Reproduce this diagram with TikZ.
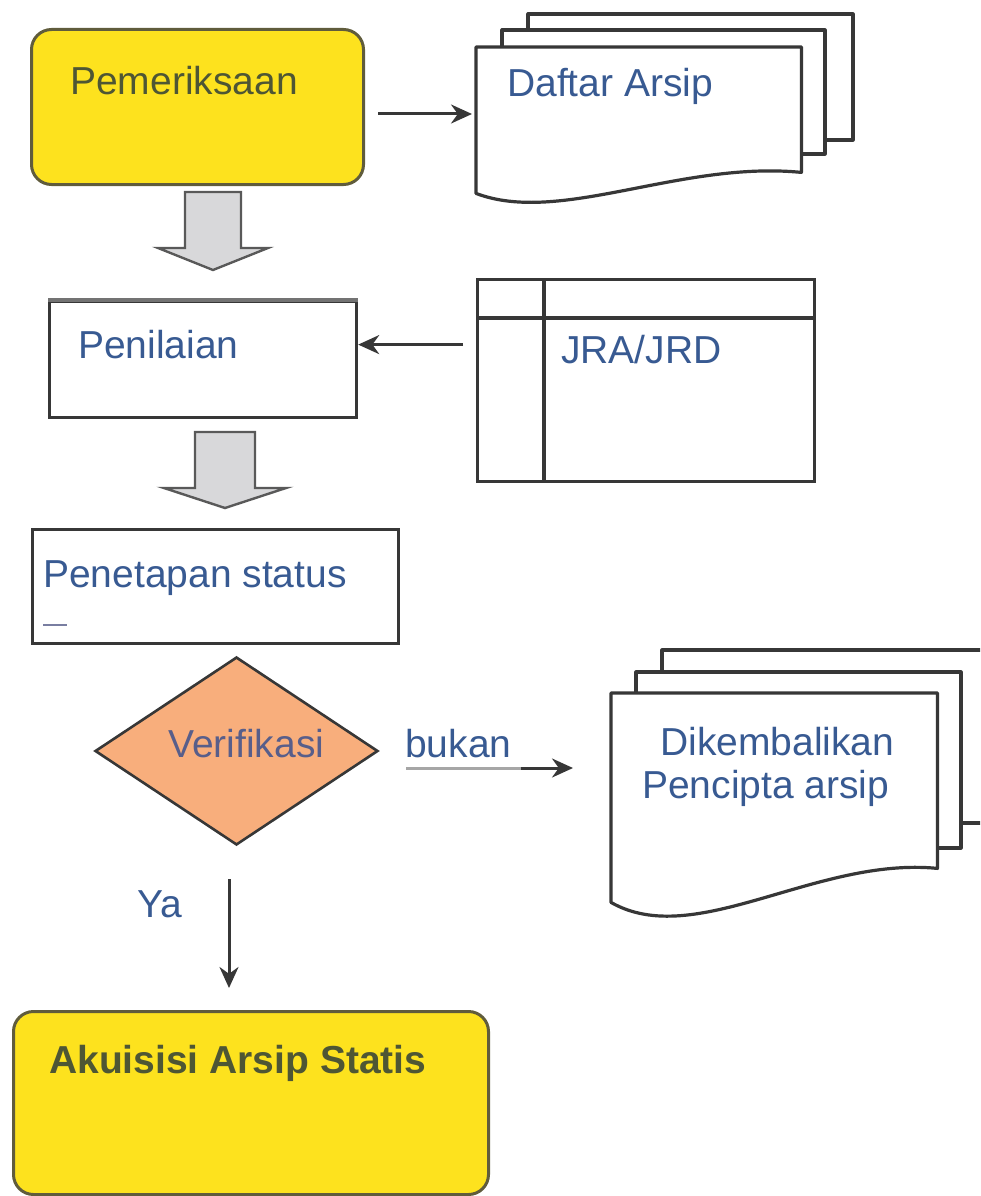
\documentclass[tikz,border=0pt]{standalone}
\usepackage{fontspec}
\setmainfont{Liberation Sans}
\usetikzlibrary{arrows.meta,shapes.geometric,calc}

\definecolor{boxyellow}{RGB}{253,226,30}
\definecolor{yellowedge}{RGB}{96,92,60}
\definecolor{olivetext}{RGB}{78,86,52}
\definecolor{bluetext}{RGB}{56,90,146}
\definecolor{greyblue}{RGB}{88,94,138}
\definecolor{salmon}{RGB}{248,174,124}
\definecolor{edge}{RGB}{55,55,55}
\definecolor{blockgrey}{RGB}{216,216,218}

\begin{document}
\begin{tikzpicture}[x=1pt,y=-1pt,
  box/.style={rectangle,draw=edge,line width=3.2pt,fill=white,
    anchor=north west,inner sep=0pt},
  roundbox/.style={rectangle,rounded corners=20pt,draw=yellowedge,
    line width=3pt,fill=boxyellow,anchor=north west,inner sep=0pt},
  ghost/.style={rectangle,anchor=north west,inner sep=0pt},
  paper/.style={draw=edge,line width=3.2pt,fill=white,line join=round},
  blockarrow/.style={draw=black!65,line width=2.4pt,fill=blockgrey,line join=miter},
  flow/.style={draw=edge,line width=3pt,-{Stealth[length=21pt,width=19pt]}},
  lbl/.style={inner sep=0pt,anchor=base west,font=\fontsize{39}{46}\selectfont},
]
\useasboundingbox (0,0) rectangle (980,1196);
\clip (0,0) rectangle (980,1196);

% ---------- Pemeriksaan ----------
\node[roundbox,minimum width=332pt,minimum height=155pt] (pem) at (30,28) {};
\node[lbl,text=olivetext] at (70,95) {Pemeriksaan};

% ---------- Daftar Arsip (stacked documents) ----------
\draw[paper] (528,14) rectangle (853,140);
\draw[paper] (502,30) rectangle (825,154);
\node[ghost,minimum width=325pt,minimum height=146pt] (daftar) at (476,47) {};
\draw[paper] (daftar.south west) -- (daftar.north west) -- (daftar.north east)
  -- ([shift={(0,-21)}]daftar.south east)
  .. controls ([shift={(204,-33)}]daftar.south west) and ([shift={(84,32)}]daftar.south west)
  .. (daftar.south west) -- cycle;
\node[lbl,text=bluetext] at (507,97) {Daftar Arsip};

\coordinate (a1) at ([shift={(13,7)}]pem.east);
\draw[flow] (a1) -- ([xshift=-4pt]daftar.west |- a1);

% ---------- block arrow 1 ----------
\draw[blockarrow] (185,192) -- (241,192) -- (241,248) -- (268,248) -- (213,270)
  -- (158,248) -- (185,248) -- cycle;

% ---------- Penilaian ----------
\node[box,minimum width=307pt,minimum height=116pt] (pen) at (48,300) {};
\draw[black!55,line width=4.5pt] (pen.north west) -- (pen.north east);
\node[lbl,text=bluetext] at (78,358) {Penilaian};

% ---------- JRA/JRD table ----------
\node[box,minimum width=337pt,minimum height=202pt] (jra) at (476,278) {};
\draw[edge,line width=3.2pt] (476,318) -- (813,318);
\draw[edge,line width=3.2pt] (544,278) -- (544,480);
\node[lbl,text=bluetext] at (561,363) {JRA/JRD};

\coordinate (a2) at ([shift={(-13,-36)}]jra.west);
\draw[flow] (a2) -- (pen.east |- a2);

% ---------- block arrow 2 ----------
\draw[blockarrow] (195,432) -- (255,432) -- (255,488) -- (286,488) -- (225,508)
  -- (164,488) -- (195,488) -- cycle;

% ---------- Penetapan status ----------
\node[box,minimum width=366pt,minimum height=114pt] (tetap) at (31,528) {};
\node[lbl,text=bluetext] at (43,587) {Penetapan status};
\draw[greyblue!80,line width=2.4pt] (43,625) -- (67,625);

% ---------- Verifikasi ----------
\node[diamond,draw=edge,line width=2.6pt,fill=salmon,inner sep=0pt,
  minimum width=283pt,minimum height=188pt] (ver) at (236.5,751) {};
\node[lbl,text=greyblue] at (168,757) {Verifikasi};

% ---------- Dikembalikan (stacked documents) ----------
\draw[paper] (662,650) rectangle (1000,823);
\draw[paper] (636,672) rectangle (961,848);
\node[ghost,minimum width=326pt,minimum height=209pt] (dik) at (611,693) {};
\draw[paper] (dik.south west) -- (dik.north west) -- (dik.north east)
  -- ([shift={(0,-34)}]dik.south east)
  .. controls ([shift={(205,-46)}]dik.south west) and ([shift={(84,48)}]dik.south west)
  .. (dik.south west) -- cycle;
\node[lbl,text=bluetext] at (660,755) {Dikembalikan};
\node[lbl,text=bluetext] at (642,798) {Pencipta arsip};

% "bukan" branch
\coordinate (bukanstart) at ([shift={(27,17)}]ver.east);
\coordinate (bukanend) at ([xshift=-38pt]dik.west |- bukanstart);
\draw[black!35,line width=3pt] (bukanstart) -- ++(115,0) coordinate (bukanmid);
\draw[flow] (bukanmid) -- (bukanend);
\node[lbl,text=bluetext] at (405,757) {bukan};

% ---------- Akuisisi Arsip Statis ----------
\node[roundbox,minimum width=475pt,minimum height=183pt] (aku) at (12,1010) {};
\node[lbl,text=olivetext,font=\fontsize{39}{46}\selectfont\bfseries] at (49,1073) {Akuisisi Arsip Statis};

% "Ya" branch
\coordinate (yastart) at ([shift={(-7.5,33)}]ver.south);
\draw[flow] (yastart) -- ([yshift=22pt]yastart |- aku.north);
\node[lbl,text=bluetext] at (137,917) {Ya};

\end{tikzpicture}
\end{document}
